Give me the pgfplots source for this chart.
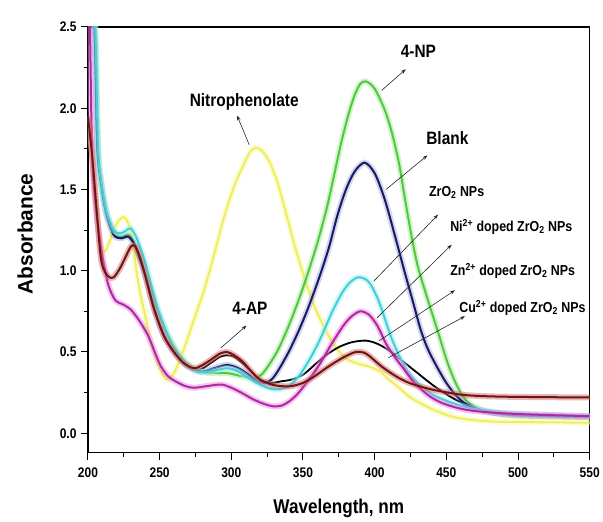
\documentclass[border=0pt]{standalone}
\usepackage{fontspec}
\setmainfont{Liberation Sans}[FakeStretch=0.86]
\newfontfamily\plainsans{Liberation Sans}
\usepackage{pgfplots}
\usepackage{pgfplotstable}
\pgfplotsset{compat=1.18}
\usetikzlibrary{arrows.meta}

\definecolor{cgreen}{RGB}{80,200,70}
\definecolor{cgreenh}{RGB}{170,235,150}
\definecolor{cnavy}{RGB}{25,25,105}
\definecolor{cnavyh}{RGB}{120,120,190}
\definecolor{ccyan}{RGB}{70,205,215}
\definecolor{ccyanh}{RGB}{160,240,245}
\definecolor{cmag}{RGB}{175,40,165}
\definecolor{cmagh}{RGB}{235,140,225}
\definecolor{cred}{RGB}{115,20,20}
\definecolor{credh}{RGB}{210,110,110}
\definecolor{cyel}{RGB}{240,238,95}
\definecolor{cyelh}{RGB}{250,250,170}

\pgfplotstableread{
x y
200 1.95
203 1.72
206 1.40
209 1.15
212 1.12
216 1.20
220 1.29
225 1.33
229 1.27
232 1.12
235 0.93
240 0.72
244 0.56
249 0.42
253 0.35
256 0.33
260 0.37
264 0.45
267 0.52
274 0.70
281 0.88
288 1.10
295 1.33
302 1.52
309 1.66
313 1.73
317 1.757
321 1.74
326 1.68
332 1.55
338 1.36
345 1.13
352 0.93
358 0.78
366 0.63
372 0.54
380 0.46
388 0.43
396 0.41
404 0.38
410 0.33
417 0.28
425 0.22
435 0.17
445 0.13
455 0.10
470 0.08
490 0.07
550 0.065
}\tyel

\pgfplotstableread{
x y
200 1.95
203 1.70
206 1.38
209 1.08
212 0.99
215 0.96
218 0.96
222 1.01
226 1.08
230 1.15
233 1.15
236 1.09
240 0.97
246 0.77
253 0.60
260 0.50
267 0.43
274 0.40
280 0.42
287 0.46
292 0.49
297 0.50
302 0.48
308 0.44
314 0.38
320 0.33
328 0.30
335 0.29
342 0.29
350 0.31
358 0.35
366 0.40
373 0.44
380 0.475
387 0.50
394 0.49
405 0.41
415 0.35
424 0.31
435 0.28
445 0.26
463 0.235
490 0.225
550 0.22
}\tred

\pgfplotstableread{
x y
200 3.2
204.5 2.5
206.5 1.76
209.5 1.52
213 1.35
218 1.23
223 1.20
228 1.21
232 1.17
236 1.08
240 0.97
246 0.77
253 0.60
260 0.50
267 0.43
274 0.39
280 0.40
287 0.44
292 0.47
297 0.48
302 0.47
308 0.43
314 0.38
320 0.33
328 0.31
335 0.32
342 0.33
350 0.36
358 0.42
366 0.48
375 0.53
384 0.56
394 0.57
402 0.55
410 0.51
420 0.44
430 0.37
440 0.30
450 0.24
460 0.19
470 0.15
485 0.12
500 0.11
550 0.10
}\tblack

\pgfplotstableread{
x y
200 3.2
205 2.5
207 1.76
209.5 1.53
213 1.36
218 1.25
223 1.23
227 1.25
230 1.26
234 1.20
240 1.05
249 0.76
258 0.56
267 0.44
276 0.38
285 0.38
297 0.40
305 0.38
312 0.34
320 0.30
327 0.275
333 0.27
340 0.29
347 0.35
355 0.46
362 0.58
370 0.74
377 0.86
383 0.93
389 0.96
396 0.93
403 0.81
412 0.58
421 0.41
430 0.31
440 0.24
450 0.20
460 0.17
470 0.15
485 0.13
500 0.12
550 0.105
}\tcyan

\pgfplotstableread{
x y
200 3.2
201.4 2.5
203 1.70
206 1.35
209.5 1.12
214 0.92
219 0.82
225 0.79
230 0.76
236 0.69
242 0.60
247 0.49
251 0.41
256 0.35
261 0.32
268 0.29
274 0.28
283 0.29
293 0.30
300 0.28
307 0.25
315 0.21
323 0.18
329 0.166
335 0.17
341 0.20
347 0.25
355 0.34
362 0.43
370 0.55
378 0.66
384 0.72
390 0.75
396 0.73
402 0.66
408 0.55
414 0.47
420 0.40
425 0.34
430 0.29
438 0.23
446 0.19
456 0.16
467 0.14
485 0.125
510 0.115
550 0.105
}\tmag

\pgfplotstableread{
x y
200 3.2
204.5 2.5
206.5 1.76
209.5 1.51
213 1.34
218 1.22
223 1.20
228 1.21
232 1.17
236 1.08
240 0.97
246 0.77
253 0.60
260 0.50
267 0.43
274 0.39
280 0.38
288 0.40
297 0.42
305 0.40
312 0.36
318 0.32
323 0.31
328 0.33
333 0.39
340 0.50
347 0.63
354 0.78
361 0.95
368 1.14
374 1.34
380 1.50
386 1.61
393 1.665
400 1.60
407 1.44
414 1.22
421 0.99
427 0.80
432 0.64
437 0.52
444 0.40
450 0.31
456 0.24
462 0.19
470 0.155
480 0.13
500 0.11
550 0.10
}\tnavy

\pgfplotstableread{
x y
200 3.2
205 2.5
207 1.77
209.5 1.53
213 1.36
218 1.24
223 1.21
228 1.22
232 1.18
236 1.09
240 0.99
247 0.80
254 0.64
261 0.52
268 0.44
275 0.39
285 0.37
297 0.37
308 0.35
316 0.34
321 0.36
327 0.43
333 0.52
340 0.66
347 0.82
354 1.00
361 1.20
367 1.40
372 1.60
377 1.80
382 1.97
386 2.08
390 2.15
394 2.165
400 2.12
407 1.99
412 1.85
417 1.66
421 1.45
426 1.20
430 1.03
435 0.88
440 0.74
445 0.60
451 0.43
457 0.30
463 0.21
470 0.16
480 0.13
500 0.11
550 0.10
}\tgreen

\begin{document}
\begin{tikzpicture}
\begin{axis}[
  scale only axis,
  width=502bp, height=426bp,
  xmin=200, xmax=550, ymin=-0.12, ymax=2.5,
  clip mode=individual,
  axis line style={line width=1.2bp},
  xtick={200,250,...,550},
  ytick={0,0.5,...,2.5},
  minor x tick num=1, minor y tick num=1,
  tick align=outside,
  xtick pos=left, ytick pos=left,
  major tick length=7bp, minor tick length=4bp,
  every tick/.style={line width=1bp, black},
  /pgf/number format/assume math mode=true,
  xticklabel={\bfseries\fontsize{14}{14}\selectfont\pgfmathprintnumber[fixed,precision=0]{\tick}},
  yticklabel={\bfseries\fontsize{14}{14}\selectfont\pgfmathprintnumber[fixed,fixed zerofill,precision=1]{\tick}},
  xticklabel style={yshift=-4bp},
  yticklabel style={xshift=-1bp},
  xlabel={Wavelength, nm},
  ylabel={Absorbance},
  every axis x label/.style={at={(axis description cs:0.5,-0.131)}, anchor=center, font=\bfseries\fontsize{20}{20}\selectfont},
  every axis y label/.style={at={(axis description cs:-0.125,0.514)}, rotate=90, anchor=center, font=\plainsans\bfseries\fontsize{21}{21}\selectfont},
  halo/.style={line width=6bp, opacity=0.5, smooth, no marks},
  main/.style={line width=2bp, smooth, no marks},
]
\addplot[halo, cyelh] table {\tyel};
\addplot[main, cyel] table {\tyel};
\addplot[main, black, line width=1.8bp] table {\tblack};
\addplot[halo, cgreenh] table {\tgreen};
\addplot[main, cgreen] table {\tgreen};
\addplot[halo, cnavyh, opacity=0.3] table {\tnavy};
\addplot[main, cnavy] table {\tnavy};
\addplot[halo, ccyanh] table {\tcyan};
\addplot[main, ccyan] table {\tcyan};
\addplot[halo, cmagh] table {\tmag};
\addplot[main, cmag] table {\tmag};
\addplot[halo, credh] table {\tred};
\addplot[main, cred] table {\tred};

\tikzset{arr/.style={draw=black!85, line width=0.6bp, -{Stealth[length=5bp,width=3.5bp]}}}
\tikzset{big/.style={font=\bfseries\fontsize{18}{18}\selectfont, inner sep=0pt}}
\tikzset{small/.style={font=\bfseries\fontsize{14.5}{14.5}\selectfont, inner sep=0pt}}

\node[big] at (axis cs:430.5,2.35) {4-NP};
\draw[arr] (axis cs:404.9,2.11) -- (axis cs:421.7,2.24);
\node[big] at (axis cs:450.7,1.815) {Blank};
\draw[arr] (axis cs:407.9,1.50) -- (axis cs:436.8,1.71);
\node[small] at (axis cs:457.2,1.48) {ZrO\textsubscript{2} NPs};
\draw[arr] (axis cs:399.3,0.935) -- (axis cs:444.2,1.345);
\node[small] at (axis cs:495.3,1.27) {Ni\textsuperscript{2+} doped ZrO\textsubscript{2} NPs};
\draw[arr] (axis cs:401.6,0.71) -- (axis cs:453.7,1.16);
\node[small] at (axis cs:496.3,1.00) {Zn\textsuperscript{2+} doped ZrO\textsubscript{2} NPs};
\draw[arr] (axis cs:402.8,0.567) -- (axis cs:456,0.88);
\node[small] at (axis cs:503.1,0.77) {Cu\textsuperscript{2+} doped ZrO\textsubscript{2} NPs};
\draw[arr] (axis cs:409.7,0.465) -- (axis cs:463,0.72);
\node[big] at (axis cs:309,2.04) {Nitrophenolate};
\draw[arr] (axis cs:312.5,1.775) -- (axis cs:304,1.955);
\node[big] at (axis cs:313,0.77) {4-AP};
\draw[arr] (axis cs:292.8,0.526) -- (axis cs:310.6,0.663);
\end{axis}
\path ([shift={(-88bp,-67bp)}]current axis.south west) rectangle ([shift={(13bp,27bp)}]current axis.north east);
\end{tikzpicture}
\end{document}
